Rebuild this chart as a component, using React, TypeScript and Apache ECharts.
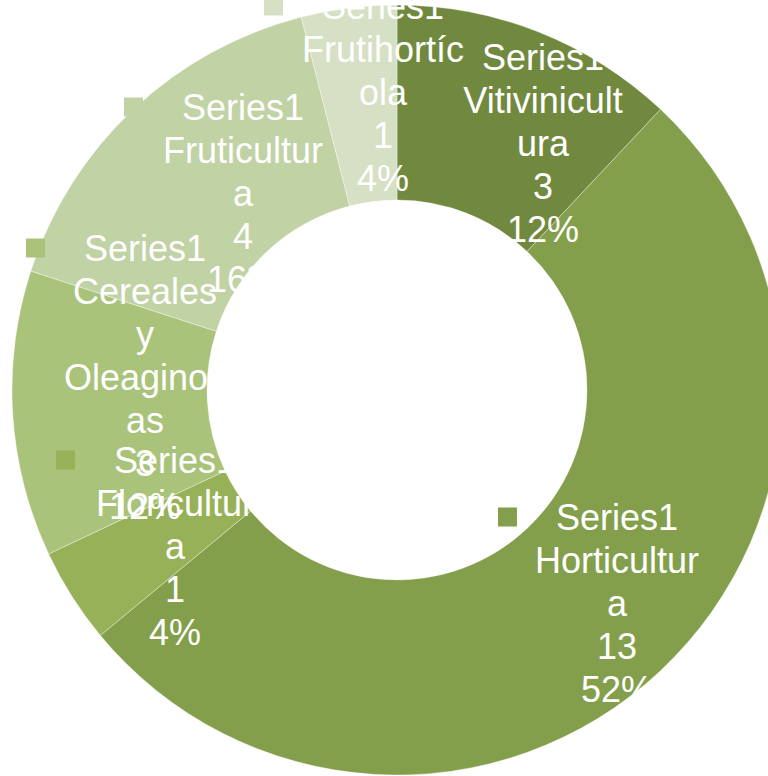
import React, { useEffect, useRef } from "react";
import * as echarts from "echarts";

const SERIES_NAME = "Series1";
const categories = [
  "Vitivinicultura",
  "Horticultura",
  "Floricultura",
  "Cereales y Oleaginosas",
  "Fruticultura",
  "Frutihortícola",
];
const values = [3, 13, 1, 3, 4, 1];
const colors = ["#71893F", "#839F4B", "#97B158", "#A9C37A", "#C1D2A5", "#D6E0C4"];
// label block centres (layout only)
const labelPos: [number, number][] = [
  [543, 143],
  [617, 603],
  [175, 546],
  [145, 377],
  [243, 193],
  [383, 92],
];

const FONT_SIZE = 36;
const FONT_FAMILY = "'Liberation Sans', Arial, sans-serif";
const WRAP_WIDTH = 170;

function wrapText(text: string): string[] {
  const canvas = document.createElement("canvas");
  const ctx = canvas.getContext("2d")!;
  ctx.font = `${FONT_SIZE}px ${FONT_FAMILY}`;
  const w = (s: string) => ctx.measureText(s).width;
  const lines: string[] = [];
  let cur = "";
  for (const word of text.split(" ")) {
    const trial = cur ? cur + " " + word : word;
    if (w(trial) <= WRAP_WIDTH) {
      cur = trial;
      continue;
    }
    if (cur) lines.push(cur);
    cur = "";
    if (w(word) <= WRAP_WIDTH) {
      cur = word;
    } else {
      let part = "";
      for (const ch of word) {
        if (w(part + ch) <= WRAP_WIDTH) part += ch;
        else {
          lines.push(part);
          part = ch;
        }
      }
      cur = part;
    }
  }
  if (cur) lines.push(cur);
  return lines;
}

export default function App() {
  const ref = useRef<HTMLDivElement>(null);
  useEffect(() => {
    if (!ref.current) return;
    const chart = echarts.init(ref.current, null, { renderer: "svg" });
    const total = values.reduce((a, b) => a + b, 0);
    const data = categories.map((name, i) => ({
      name,
      value: values[i],
      itemStyle: { color: colors[i] },
      label: {
        rich: {
          sq: { width: 19, height: 19, backgroundColor: colors[i] },
          gap: { width: 39, height: 19 },
          pad: { width: 58, height: 19 },
        },
      },
    }));
    chart.setOption({
      animation: false,
      backgroundColor: "#ffffff",
      series: [
        {
          type: "pie",
          name: SERIES_NAME,
          center: [397, 390],
          radius: [190, 385],
          startAngle: 90,
          clockwise: true,
          avoidLabelOverlap: false,
          itemStyle: { borderColor: "rgba(255,255,255,0.45)", borderWidth: 0.8 },
          emphasis: { disabled: true },
          label: {
            show: true,
            position: "inside",
            color: "#ffffff",
            fontSize: FONT_SIZE,
            fontFamily: FONT_FAMILY,
            lineHeight: 43,
            align: "center",
            verticalAlign: "middle",
            formatter: (p: any) => {
              const pct = Math.round((p.value / total) * 100);
              const lines = wrapText(p.name);
              return [
                `{sq|}{gap|}${SERIES_NAME}{pad|}`,
                ...lines,
                String(p.value),
                `${pct}%`,
              ].join("\n");
            },
          },
          labelLayout: (params: any) => {
            const pos = labelPos[params.dataIndex];
            return { x: pos[0], y: pos[1], align: "center", verticalAlign: "middle" };
          },
          labelLine: { show: false },
          data,
        },
      ],
    });
    return () => chart.dispose();
  }, []);
  return (
    <div
      ref={ref}
      style={{ position: "absolute", left: 0, top: 0, width: 768, height: 776 }}
    />
  );
}
